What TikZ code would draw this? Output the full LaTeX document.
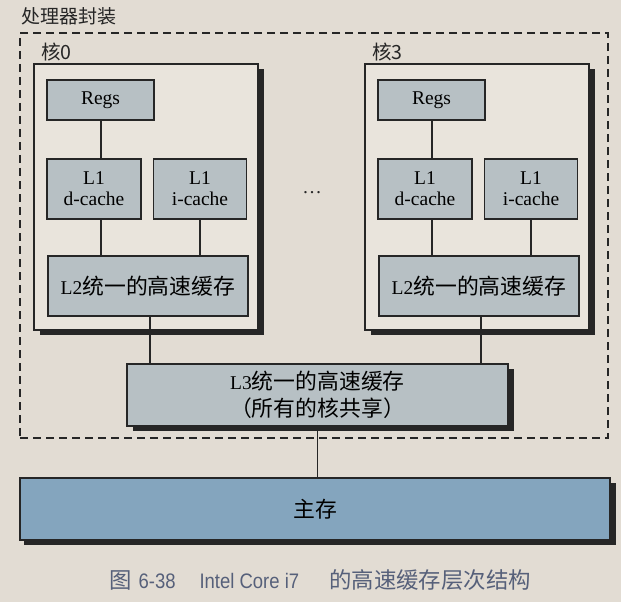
\documentclass[tikz,border=0pt]{standalone}
\usepackage{fontspec}
\setmainfont{Liberation Serif}
\newfontfamily\cjk[Scale=1.12]{Noto Sans CJK SC}
\newfontfamily\capsf[FakeStretch=0.88]{Liberation Sans}
\usetikzlibrary{shadows}
\definecolor{paper}{HTML}{E2DCD3}
\definecolor{corefill}{HTML}{E9E4DC}
\definecolor{gfill}{HTML}{B7C0C4}
\definecolor{mfill}{HTML}{84A5BE}
\definecolor{ink}{HTML}{262626}
\definecolor{capcol}{HTML}{56607A}
\begin{document}
\begin{tikzpicture}[x=1pt,y=-1pt,
  gbox/.style={draw=ink, line width=1.3pt, fill=gfill, inner sep=0pt, align=center, font=\fontsize{19.5}{21}\selectfont},
  corebox/.style={draw=ink, line width=1.3pt, fill=corefill, inner sep=0pt, drop shadow={shadow xshift=6pt, shadow yshift=-5pt, opacity=1, fill=ink}},
  bigbox/.style={gbox, drop shadow={shadow xshift=6pt, shadow yshift=-5pt, opacity=1, fill=ink}},
  link/.style={draw=ink, line width=1.3pt},
  lbl/.style={font=\fontsize{17.5}{20}\selectfont\cjk, inner sep=0pt, anchor=west, text=ink}
]
\fill[paper] (0,0) rectangle (621,602);
\useasboundingbox (0,0) rectangle (621,602);

% package (dashed)
\node[draw=ink, line width=1.2pt, dash pattern=on 8pt off 5pt, minimum width=588pt, minimum height=405pt, inner sep=0pt] (pkg) at (314,235.5) {};
\node[lbl, font=\fontsize{17}{20}\selectfont\cjk] (title) at (21,16) {处理器封装};

% cores
\node[corebox, minimum width=224pt, minimum height=266pt] (core0) at (146,197) {};
\node[corebox, minimum width=224pt, minimum height=266pt] (core3) at (477,197) {};
\node[lbl] (lab0) at (41,52) {核0};
\node[lbl] (lab3) at (372,52) {核3};

% core 0 contents
\node[gbox, minimum width=107pt, minimum height=40pt] (regs0) at (100.5,100) {Regs};
\node[gbox, minimum width=94pt, minimum height=60pt] (d0) at (94,189) {L1\\d-cache};
\node[gbox, minimum width=93pt, minimum height=60pt] (i0) at (200,189) {L1\\i-cache};
\node[gbox, minimum width=200pt, minimum height=60pt] (l20) at (148,286) {L2{\cjk 统一的高速缓存}};

% core 3 contents
\node[gbox, minimum width=107pt, minimum height=40pt] (regs3) at (431.5,100) {Regs};
\node[gbox, minimum width=94pt, minimum height=60pt] (d3) at (425,189) {L1\\d-cache};
\node[gbox, minimum width=93pt, minimum height=60pt] (i3) at (531,189) {L1\\i-cache};
\node[gbox, minimum width=200pt, minimum height=60pt] (l23) at (479,286) {L2{\cjk 统一的高速缓存}};

\node[font=\fontsize{19.5}{21}\selectfont, inner sep=0pt, text=ink] (dots) at (312,193) {\ldots};

% L3 and main memory
\node[bigbox, minimum width=381pt, minimum height=62pt, font=\fontsize{19.5}{27}\selectfont] (l3) at (317.5,395) {L3{\cjk 统一的高速缓存}\\{\cjk （所有的核共享）}};
\node[bigbox, fill=mfill, minimum width=590pt, minimum height=62pt, drop shadow={shadow xshift=4pt, shadow yshift=-5pt, opacity=1, fill=ink}] (mem) at (315,509) {\cjk 主存};

% connectors
\coordinate (a0) at (101,0);
\coordinate (a3) at (432,0);
\coordinate (v0) at (150,0);
\coordinate (v3) at (481,0);
\draw[link] (regs0.south -| a0) -- (d0.north -| a0);
\draw[link] (d0.south -| a0) -- (l20.north -| a0);
\draw[link] (i0.south) -- (i0.south |- l20.north);
\draw[link] (regs3.south -| a3) -- (d3.north -| a3);
\draw[link] (d3.south -| a3) -- (l23.north -| a3);
\draw[link] (i3.south) -- (i3.south |- l23.north);
\draw[link] (l20.south -| v0) -- (l3.north -| v0);
\draw[link] (l23.south -| v3) -- (l3.north -| v3);
\draw[link] (l3.south) -- (l3.south |- mem.north);

% caption
\node[anchor=west, inner sep=0pt, text=capcol, font=\fontsize{21}{22}\selectfont\capsf] (cap) at (109,580)
  {{\fontsize{20}{20}\selectfont\cjk 图}\hspace{7pt}6-38\hspace{24pt}Intel Core i7\hspace{30pt}{\fontsize{20}{20}\selectfont\cjk 的高速缓存层次结构}};
\end{tikzpicture}
\end{document}
